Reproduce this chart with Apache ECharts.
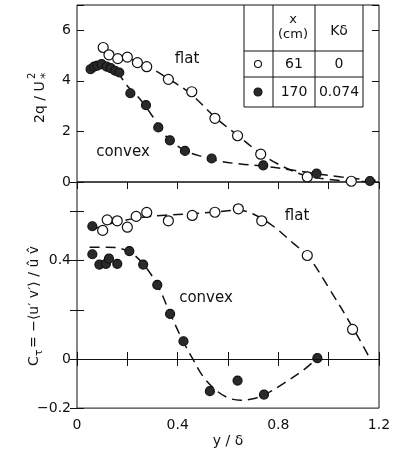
<!DOCTYPE html>
<html><head><meta charset="utf-8">
<script src="https://cdn.jsdelivr.net/npm/echarts@6/dist/echarts.min.js"></script>
<style>html,body{margin:0;padding:0;background:#fff}#c{width:398px;height:456px}</style>
</head><body><div id="c"></div>
<script>
// ---- data ----
const xTickLabels = ['0', '0.4', '0.8', '1.2'];
const topTickLabels = ['0', '2', '4', '6'];
const bottomTickLabels = ['−0.2', '0', '0.4'];

// top panel: 2q/U*^2
const flatQ = [[0.104,5.32],[0.127,5.03],[0.162,4.88],[0.200,4.94],[0.240,4.72],[0.277,4.56],[0.363,4.06],[0.456,3.57],[0.548,2.52],[0.638,1.83],[0.730,1.10],[0.915,0.20],[1.090,0.03]];
const convexQ = [[0.054,4.46],[0.068,4.56],[0.081,4.60],[0.098,4.66],[0.118,4.56],[0.134,4.50],[0.151,4.40],[0.168,4.33],[0.212,3.51],[0.274,3.04],[0.323,2.16],[0.369,1.65],[0.429,1.23],[0.535,0.93],[0.740,0.66],[0.952,0.33],[1.164,0.04]];
const flatQFit = [[0.20,4.92],[0.28,4.58],[0.36,4.10],[0.45,3.50],[0.55,2.55],[0.64,1.83],[0.73,1.12],[0.80,0.70],[0.90,0.28],[1.00,0.10],[1.10,0.03],[1.18,0.01]];
const convexQFit = [[0.045,4.50],[0.10,4.66],[0.15,4.45],[0.20,3.80],[0.25,3.28],[0.30,2.60],[0.35,1.85],[0.40,1.42],[0.45,1.15],[0.50,1.00],[0.57,0.82],[0.65,0.71],[0.75,0.62],[0.85,0.48],[0.95,0.33],[1.05,0.20],[1.15,0.09],[1.20,0.05]];

// bottom panel: C_tau
const flatC = [[0.102,0.523],[0.120,0.566],[0.160,0.562],[0.200,0.536],[0.235,0.580],[0.277,0.596],[0.363,0.562],[0.458,0.584],[0.548,0.597],[0.641,0.611],[0.734,0.562],[0.915,0.421],[1.095,0.120]];
const convexC = [[0.061,0.540],[0.061,0.426],[0.089,0.384],[0.115,0.387],[0.127,0.408],[0.160,0.387],[0.208,0.439],[0.263,0.384],[0.319,0.301],[0.370,0.183],[0.423,0.072],[0.528,-0.131],[0.638,-0.088],[0.743,-0.145],[0.955,0.003]];
const flatCFit = [[0.07,0.53],[0.15,0.555],[0.25,0.575],[0.35,0.585],[0.45,0.59],[0.55,0.598],[0.64,0.605],[0.70,0.59],[0.78,0.54],[0.86,0.47],[0.92,0.415],[1.00,0.29],[1.10,0.12],[1.165,0]];
const convexCFit = [[0.05,0.455],[0.12,0.455],[0.20,0.44],[0.26,0.39],[0.32,0.30],[0.37,0.185],[0.42,0.075],[0.46,0.0],[0.50,-0.07],[0.55,-0.125],[0.60,-0.158],[0.65,-0.168],[0.70,-0.162],[0.75,-0.143],[0.82,-0.10],[0.90,-0.045],[0.955,0.003]];

// legend table
const legendHeader = ['x', '(cm)', 'Kδ'];
const legendRows = [['61', '0'], ['170', '0.074']];

// ---- chart ----
const FONT = 'DejaVu Sans';
const INK = '#111';
const chart = echarts.init(document.getElementById('c'), null, {renderer: 'canvas'});

function fmt(list) {
  return function (v) {
    const r = Math.round(v * 10) / 10;
    const s = (r < 0 ? '−' + Math.abs(r) : String(r));
    return (Math.abs(v - r) < 1e-6 && list.indexOf(s) >= 0) ? s : '';
  };
}
const tickStyle = {show: true, inside: true, length: 7, lineStyle: {color: INK, width: 1}};
const lblStyle = {color: INK, fontFamily: FONT, fontSize: 14};

function fitLine(data, xi, yi) {
  return {type: 'line', xAxisIndex: xi, yAxisIndex: yi, data: data, smooth: 0.35,
    showSymbol: false, silent: true, z: 2,
    lineStyle: {color: INK, width: 1.5, type: [10, 6]}};
}
function pts(data, xi, yi, filled) {
  return {type: 'scatter', xAxisIndex: xi, yAxisIndex: yi, data: data, symbol: 'circle',
    symbolSize: filled ? 9 : 10, z: 3,
    itemStyle: {color: filled ? '#2a2a2a' : '#fff', borderColor: INK, borderWidth: 1.2, opacity: 1}};
}

const option = {
  animation: false,
  backgroundColor: '#fff',
  grid: [
    {left: 77, top: 5, width: 302, height: 177, show: true, borderColor: INK, borderWidth: 1, backgroundColor: 'transparent'},
    {left: 77, top: 182, width: 302, height: 232, show: true, borderColor: INK, borderWidth: 1, backgroundColor: 'transparent'}
  ],
  xAxis: [
    {gridIndex: 0, type: 'value', min: 0, max: 1.2, interval: 0.2, position: 'top',
      axisLine: {show: false}, axisTick: tickStyle, axisLabel: {show: false}, splitLine: {show: false}},
    {gridIndex: 1, type: 'value', min: 0, max: 1.2, interval: 0.2, position: 'bottom',
      axisLine: {show: false}, axisTick: tickStyle, splitLine: {show: false},
      axisLabel: Object.assign({margin: 10, formatter: fmt(xTickLabels), showMinLabel: true, showMaxLabel: true}, lblStyle),
      name: 'y / δ', nameLocation: 'middle', nameGap: 26, nameTextStyle: lblStyle},
    {gridIndex: 1, type: 'value', min: 0, max: 1.2, interval: 0.2, position: 'top',
      axisLine: {show: false}, axisTick: tickStyle, axisLabel: {show: false}, splitLine: {show: false}}
  ],
  yAxis: [
    {gridIndex: 0, type: 'value', min: 0, max: 7, interval: 2, position: 'left',
      axisLine: {show: false}, axisTick: tickStyle, splitLine: {show: false},
      axisLabel: Object.assign({margin: 6, formatter: fmt(topTickLabels)}, lblStyle)},
    {gridIndex: 0, type: 'value', min: 0, max: 7, interval: 2, position: 'right',
      axisLine: {show: false}, axisTick: tickStyle, splitLine: {show: false}, axisLabel: {show: false}},
    {gridIndex: 1, type: 'value', min: -0.2, max: 0.72, interval: 0.2, position: 'left',
      axisLine: {show: false}, axisTick: tickStyle, splitLine: {show: false},
      axisLabel: Object.assign({margin: 6, formatter: fmt(bottomTickLabels)}, lblStyle)},
    {gridIndex: 1, type: 'value', min: -0.2, max: 0.72, interval: 0.2, position: 'right',
      axisLine: {show: false}, axisTick: tickStyle, splitLine: {show: false}, axisLabel: {show: false}}
  ],
  series: [
    fitLine(flatQFit, 0, 0),
    fitLine(convexQFit, 0, 0),
    Object.assign(fitLine(flatCFit, 1, 2), {
      markLine: {silent: true, symbol: 'none', label: {show: false},
        lineStyle: {color: INK, width: 1, type: 'solid'}, data: [{yAxis: 0}]}}),
    fitLine(convexCFit, 1, 2),
    pts(flatQ, 0, 0, false),
    pts(convexQ, 0, 0, true),
    pts(flatC, 1, 2, false),
    pts(convexC, 1, 2, true)
  ],
  graphic: []
};

function txt(t, x, y, size, align) {
  return {type: 'text', x: x, y: y, z: 10, silent: true,
    style: {text: t, fill: INK, font: size + 'px "' + FONT + '"', fontSize: size, fontFamily: FONT,
      textAlign: align || 'center', textVerticalAlign: 'middle', align: align || 'center', verticalAlign: 'middle'}};
}
function seg(x1, y1, x2, y2) {
  return {type: 'line', z: 10, silent: true, shape: {x1: x1, y1: y1, x2: x2, y2: y2},
    style: {stroke: INK, lineWidth: 1}};
}
const g = option.graphic;
// curve labels
g.push(txt('flat', 187, 59, 15));
g.push(txt('convex', 123, 152, 15));
g.push(txt('flat', 297, 216, 15));
g.push(txt('convex', 206, 298, 15));
// legend table
const cols = [244, 273, 315, 363], rows = [5, 51, 77, 107];
cols.forEach(function (x) { g.push(seg(x, rows[0], x, rows[3])); });
rows.slice(1).forEach(function (y) { g.push(seg(cols[0], y, cols[3], y)); });
g.push(txt(legendHeader[0], 293, 20, 13));
g.push(txt(legendHeader[1], 293, 35, 13));
g.push(txt(legendHeader[2], 339, 31, 14));
legendRows.forEach(function (r, i) {
  const yc = (rows[i + 1] + rows[i + 2]) / 2;
  g.push(txt(r[0], 294, yc, 14));
  g.push(txt(r[1], 339, yc, 14));
  g.push({type: 'circle', z: 10, silent: true, shape: {cx: 258, cy: yc, r: i === 0 ? 3.5 : 4},
    style: {fill: i === 0 ? '#fff' : '#2a2a2a', stroke: INK, lineWidth: 1.1}});
});
// y-axis titles (rotated)
g.push({type: 'group', x: 40, y: 94, rotation: Math.PI / 2, children: [
  txt('2q / U', -29, 0, 14, 'left'),
  txt('*', 15, 6, 13, 'left'),
  txt('2', 15, -8, 10, 'left')
]});
g.push({type: 'group', x: 34, y: 290, rotation: Math.PI / 2, children: [
  txt('C', -76, 0, 14, 'left'),
  txt('τ', -66, 5, 11, 'left'),
  txt('= −⟨u′ v′⟩ / û v\u0302', -58, 0, 14, 'left')
]});

chart.setOption(option);
</script>
</body></html>
